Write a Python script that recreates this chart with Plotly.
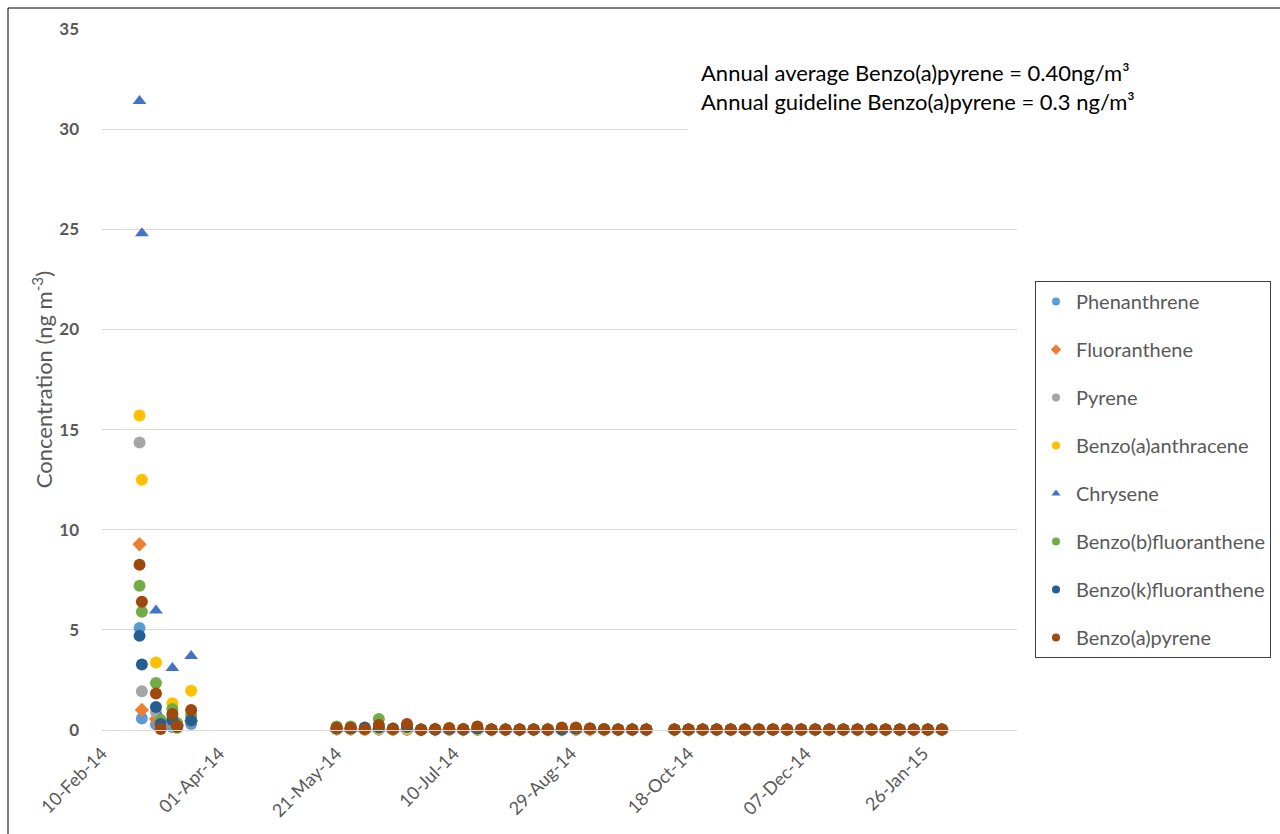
import plotly.graph_objects as go

# Sampling dates (early intensive campaign, then 6-day sampling)
dates = [
    "2014-02-26", "2014-02-27", "2014-03-05", "2014-03-07", "2014-03-12", "2014-03-14", "2014-03-20",
    "2014-05-21", "2014-05-27", "2014-06-02", "2014-06-08", "2014-06-14", "2014-06-20", "2014-06-26",
    "2014-07-02", "2014-07-08", "2014-07-14", "2014-07-20", "2014-07-26", "2014-08-01", "2014-08-07",
    "2014-08-13", "2014-08-19", "2014-08-25", "2014-08-31", "2014-09-06", "2014-09-12", "2014-09-18",
    "2014-09-24", "2014-09-30",
    "2014-10-12", "2014-10-18", "2014-10-24", "2014-10-30", "2014-11-05", "2014-11-11", "2014-11-17",
    "2014-11-23", "2014-11-29", "2014-12-05", "2014-12-11", "2014-12-17", "2014-12-23", "2014-12-29",
    "2015-01-04", "2015-01-10", "2015-01-16", "2015-01-22", "2015-01-28", "2015-02-03",
]

# Concentrations (ng m-3) per compound, one value per sampling date
phenanthrene = [5.09, 0.57, 0.28, 0.12, 0.15, 0.10, 0.30,
                0.02, 0.02, 0.01, 0.02, 0.01, 0.01, 0.01, 0.01, 0.01, 0.01, 0.01, 0.01, 0.01, 0.01,
                0.01, 0.01, 0.01, 0.01, 0.01, 0.01, 0.01, 0.01, 0.01,
                0.01, 0.01, 0.01, 0.01, 0.01, 0.01, 0.01, 0.01, 0.01, 0.01, 0.01, 0.01, 0.01, 0.01,
                0.01, 0.01, 0.01, 0.01, 0.01, 0.01]
fluoranthene = [9.27, 1.00, 0.55, 0.15, 0.40, 0.20, 0.45,
                0.06, 0.06, 0.03, 0.05, 0.03, 0.04, 0.02, 0.02, 0.02, 0.02, 0.03, 0.02, 0.02, 0.02,
                0.02, 0.02, 0.02, 0.02, 0.02, 0.02, 0.02, 0.02, 0.02,
                0.02, 0.02, 0.02, 0.02, 0.02, 0.02, 0.02, 0.02, 0.02, 0.02, 0.02, 0.02, 0.02, 0.02,
                0.02, 0.02, 0.02, 0.02, 0.02, 0.02]
pyrene = [14.36, 1.93, 0.90, 0.20, 0.70, 0.25, 0.60,
          0.07, 0.07, 0.04, 0.06, 0.03, 0.05, 0.02, 0.02, 0.02, 0.02, 0.03, 0.02, 0.02, 0.02,
          0.02, 0.02, 0.02, 0.02, 0.02, 0.02, 0.02, 0.02, 0.02,
          0.02, 0.02, 0.02, 0.02, 0.02, 0.02, 0.02, 0.02, 0.02, 0.02, 0.02, 0.02, 0.02, 0.02,
          0.02, 0.02, 0.02, 0.02, 0.02, 0.02]
benzo_a_anthracene = [15.70, 12.50, 3.37, 0.10, 1.33, 0.10, 1.96,
                      0.04, 0.04, 0.03, 0.06, 0.03, 0.06, 0.02, 0.02, 0.02, 0.02, 0.04, 0.02, 0.02, 0.02,
                      0.02, 0.02, 0.02, 0.02, 0.02, 0.02, 0.02, 0.02, 0.02,
                      0.02, 0.02, 0.02, 0.02, 0.02, 0.02, 0.02, 0.02, 0.02, 0.02, 0.02, 0.02, 0.02, 0.02,
                      0.02, 0.02, 0.02, 0.02, 0.02, 0.02]
chrysene = [31.40, 24.80, 5.97, 0.60, 3.10, 0.40, 3.69,
            0.06, 0.06, 0.04, 0.08, 0.03, 0.07, 0.02, 0.02, 0.03, 0.02, 0.04, 0.02, 0.02, 0.02,
            0.02, 0.02, 0.02, 0.02, 0.02, 0.02, 0.02, 0.02, 0.02,
            0.02, 0.02, 0.02, 0.02, 0.02, 0.02, 0.02, 0.02, 0.02, 0.02, 0.02, 0.02, 0.02, 0.02,
            0.02, 0.02, 0.02, 0.02, 0.02, 0.02]
benzo_b_fluoranthene = [7.20, 5.90, 2.35, 0.50, 1.05, 0.35, 0.75,
                        0.18, 0.18, 0.06, 0.55, 0.06, 0.20, 0.03, 0.03, 0.06, 0.03, 0.12, 0.03, 0.03, 0.03,
                        0.03, 0.03, 0.03, 0.08, 0.08, 0.05, 0.03, 0.03, 0.03,
                        0.03, 0.03, 0.03, 0.03, 0.03, 0.03, 0.03, 0.03, 0.03, 0.03, 0.03, 0.03, 0.03, 0.03,
                        0.03, 0.03, 0.03, 0.03, 0.03, 0.03]
benzo_k_fluoranthene = [4.70, 3.27, 1.15, 0.30, 0.50, 0.15, 0.47,
                        0.08, 0.08, 0.12, 0.12, 0.08, 0.15, 0.02, 0.03, 0.05, 0.03, 0.08, 0.02, 0.02, 0.02,
                        0.02, 0.02, 0.02, 0.06, 0.06, 0.04, 0.02, 0.02, 0.02,
                        0.02, 0.02, 0.02, 0.02, 0.02, 0.02, 0.02, 0.02, 0.02, 0.02, 0.02, 0.02, 0.02, 0.02,
                        0.02, 0.02, 0.02, 0.02, 0.02, 0.02]
benzo_a_pyrene = [8.25, 6.40, 1.82, 0.05, 0.80, 0.20, 1.00,
                  0.11, 0.11, 0.05, 0.25, 0.05, 0.30, 0.01, 0.05, 0.10, 0.05, 0.17, 0.03, 0.03, 0.03,
                  0.03, 0.03, 0.13, 0.13, 0.08, 0.03, 0.03, 0.03, 0.03,
                  0.03, 0.03, 0.03, 0.03, 0.03, 0.03, 0.03, 0.03, 0.03, 0.03, 0.03, 0.03, 0.03, 0.03,
                  0.03, 0.03, 0.03, 0.03, 0.03, 0.03]

series = [
    ("Phenanthrene", phenanthrene, "#5B9BD5", "circle", 12),
    ("Fluoranthene", fluoranthene, "#ED7D31", "diamond", 11),
    ("Pyrene", pyrene, "#A5A5A5", "circle", 12),
    ("Benzo(a)anthracene", benzo_a_anthracene, "#FFC000", "circle", 12),
    ("Chrysene", chrysene, "#4472C4", "triangle-up", 12),
    ("Benzo(b)fluoranthene", benzo_b_fluoranthene, "#70AD47", "circle", 12),
    ("Benzo(k)fluoranthene", benzo_k_fluoranthene, "#255E91", "circle", 12),
    ("Benzo(a)pyrene", benzo_a_pyrene, "#9E480E", "circle", 12),
]

FONT = "Lato, 'Open Sans', sans-serif"
GREY = "#595959"

fig = go.Figure()
for name, vals, color, symbol, size in series:
    fig.add_trace(go.Scatter(
        x=dates, y=vals, name=name, mode="markers",
        legendgroup=name, showlegend=False, cliponaxis=False,
        marker=dict(color=color, symbol=symbol, size=size, line=dict(width=0)),
    ))

# Legend entries with smaller key symbols
for name, vals, color, symbol, size in series:
    fig.add_trace(go.Scatter(
        x=[None], y=[None], name=name, mode="markers",
        legendgroup=name, showlegend=True,
        marker=dict(color=color, symbol=symbol, size=8, line=dict(width=0)),
    ))

# plot area in pixels: x 102..1017, y 29..730
L, R, T, B = 102, 1017, 29, 730
W, H = R - L, B - T


def px(x):
    return (x - L) / W


def py(y):
    return (B - y) / H


fig.update_layout(
    width=1280, height=834,
    margin=dict(l=L, r=1280 - R, t=T, b=834 - B, autoexpand=False),
    paper_bgcolor="white", plot_bgcolor="white",
    font=dict(family=FONT, color=GREY),
    showlegend=True,
    legend=dict(
        x=px(1035), y=py(281), xanchor="left", yanchor="top",
        bordercolor="#404040", borderwidth=1, bgcolor="white",
        font=dict(family=FONT, size=20, color=GREY),
        tracegroupgap=19, traceorder="grouped",
    ),
    xaxis=dict(
        type="date", automargin=False,
        range=["2014-02-10", "2015-03-07"],
        tick0="2014-02-10", dtick=50 * 86400000,
        tickformat="%d-%b-%y", tickangle=-45,
        tickfont=dict(family=FONT, size=18, color=GREY),
        showgrid=False, zeroline=False,
        showline=True, linecolor="#d9d9d9", linewidth=1,
        ticks="", ticklabelstandoff=5,
    ),
    yaxis=dict(
        range=[0, 35], dtick=5, tick0=0, automargin=False,
        showgrid=True, gridcolor="#d9d9d9", gridwidth=1,
        zeroline=False, showline=False, ticks="",
        tickfont=dict(family=FONT, size=17, color=GREY, weight="bold"),
        ticklabelstandoff=22,
        title=dict(text="Concentration (ng m<sup>-3</sup>)",
                   font=dict(family=FONT, size=22, color=GREY), standoff=0),
    ),
    shapes=[
        # white text box behind the annual figures
        dict(type="rect", xref="paper", yref="paper",
             x0=px(688), x1=px(1165), y0=py(134), y1=py(50),
             fillcolor="white", line=dict(width=0), layer="above"),
        # outer frame
        dict(type="line", xref="paper", yref="paper",
             x0=px(8), x1=px(8), y0=py(8), y1=py(834),
             line=dict(color="black", width=1)),
        dict(type="line", xref="paper", yref="paper",
             x0=px(8), x1=px(1280), y0=py(8), y1=py(8),
             line=dict(color="black", width=1)),
    ],
    annotations=[
        dict(xref="paper", yref="paper", x=px(699), y=py(87),
             xanchor="left", yanchor="middle", align="left", showarrow=False,
             text="Annual average Benzo(a)pyrene = 0.40ng/m³<br>"
                  "Annual guideline Benzo(a)pyrene = 0.3 ng/m³",
             font=dict(family=FONT, size=22, color="black")),
    ],
)

fig.write_html("out.html")
